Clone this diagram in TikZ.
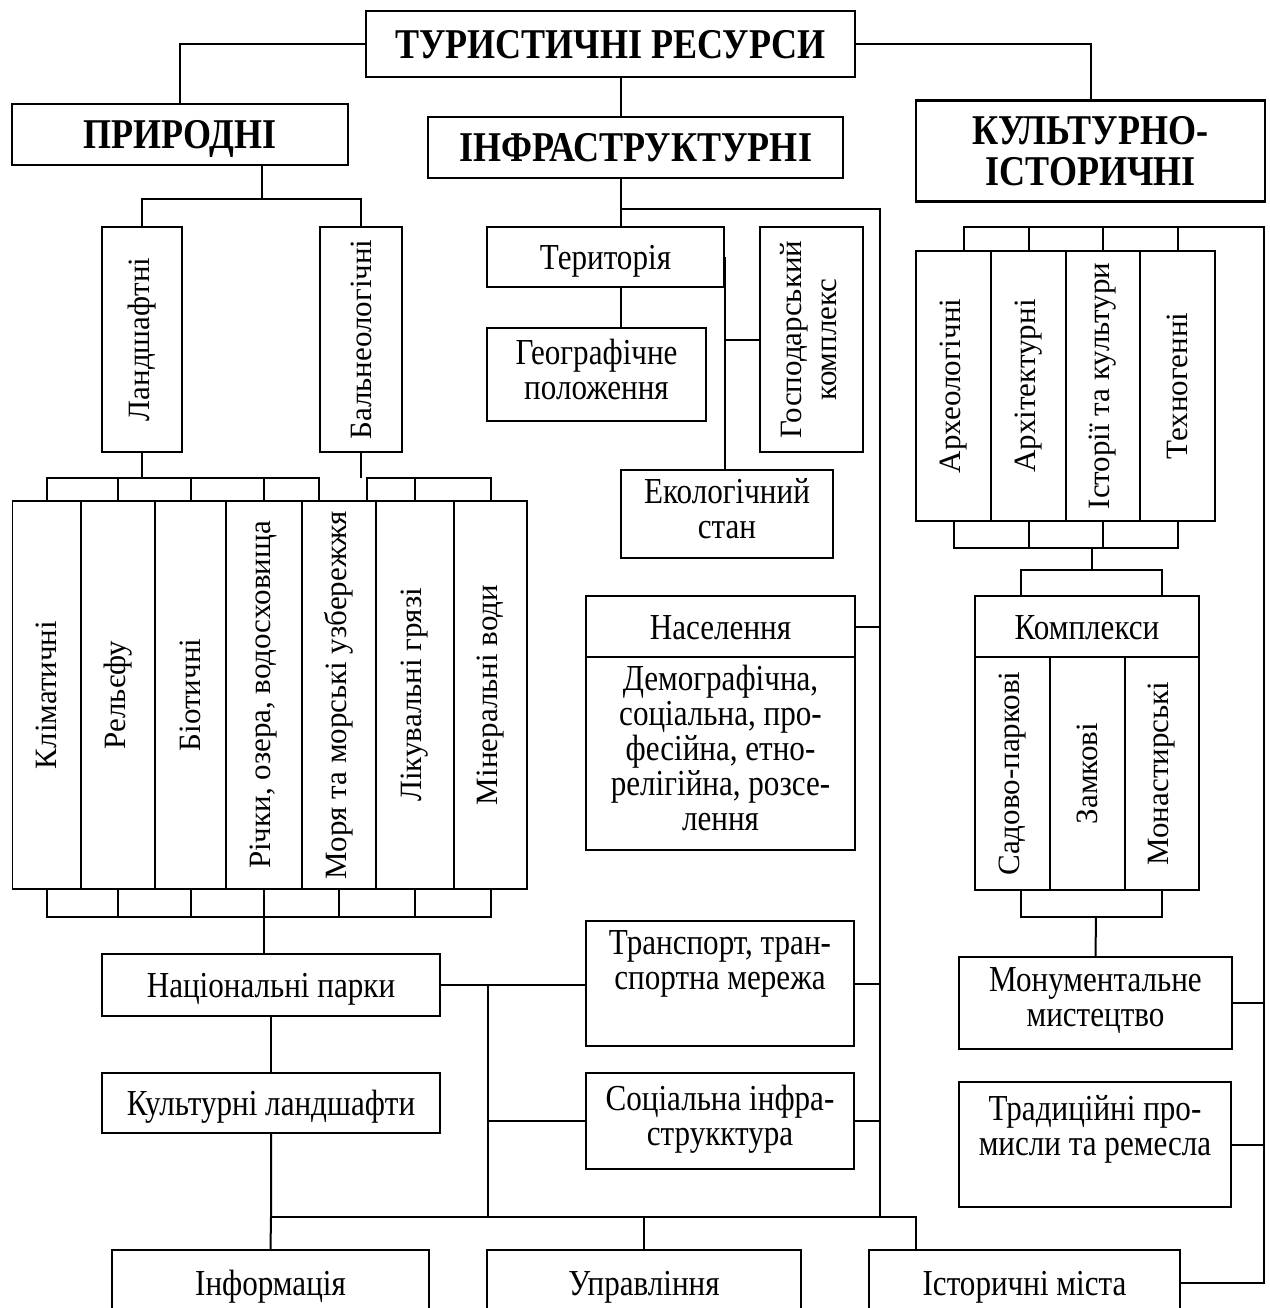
\documentclass[tikz,border=0pt]{standalone}
\usepackage{fontspec}
\setmainfont{Liberation Serif}
\newfontfamily\tallfont{Liberation Serif}[FakeStretch=0.85]
\usepackage{tikz}

\tikzset{
  rotbox/.style={draw, line width=0.7pt, inner sep=0pt, align=center, font=\fontsize{15.5}{17.5}\selectfont},
  box/.style={rotbox, font=\tallfont\fontsize{18.3}{17.5}\selectfont,
    execute at begin node={\rule{0pt}{18pt}}, execute at end node={\rule[-5.5pt]{0pt}{5.5pt}}},
  headbox/.style={draw, line width=1.4pt, inner sep=0pt, align=center, font=\tallfont\fontsize{21.2}{20.5}\selectfont\bfseries},
  onehead/.style={headbox, text height=14pt, text depth=0pt},
  sz/.style 2 args={minimum width=#1*0.5pt, minimum height=#2*0.5pt},
  txt/.style={inner sep=0pt, align=center, font=\tallfont\fontsize{18.3}{17.5}\selectfont,
    execute at begin node={\rule{0pt}{18pt}}, execute at end node={\rule[-5.5pt]{0pt}{5.5pt}}}
}

\begin{document}
\begin{tikzpicture}[x=0.5pt, y=-0.5pt, line width=1pt]
\useasboundingbox (0,0) rectangle (1270,1308);
\clip (0,0) rectangle (1270,1308);

% main groups
\node[onehead, sz={489}{66}] (tur) at (610.5,44) {ТУРИСТИЧНІ РЕСУРСИ};
\node[onehead, sz={336}{61}] (pryr) at (180,134.5) {ПРИРОДНІ};
\node[onehead, sz={415}{61}] (infra) at (635.5,147.5) {ІНФРАСТРУКТУРНІ};
\node[headbox, sz={349}{101}] (kult) at (1090.5,151) {КУЛЬТУРНО-\\ІСТОРИЧНІ};

% pryrodni
\node[rotbox, sz={80}{225}] (land) at (142,339.5) {\rotatebox{90}{Ландшафтні}};
\node[rotbox, sz={82}{225}] (baln) at (361,339.5) {\rotatebox{90}{Бальнеологічні}};
\node[rotbox, sz={68.5}{388}] (klim) at (46.75,695) {\rotatebox{90}{Кліматичні}};
\node[rotbox, sz={74}{388}] (relief) at (118,695) {\rotatebox{90}{Рельєфу}};
\node[rotbox, sz={71}{388}] (biot) at (190.5,695) {\rotatebox{90}{Біотичні}};
\node[rotbox, sz={76}{388}] (river) at (264,695) {\rotatebox{90}{Річки, озера, водосховища}};
\node[rotbox, sz={74}{388}] (sea) at (339,695) {\rotatebox{90}{Моря та морські узбережжя}};
\node[rotbox, sz={78}{388}] (mud) at (415,695) {\rotatebox{90}{Лікувальні грязі}};
\node[rotbox, sz={73}{388}] (mineral) at (490.5,695) {\rotatebox{90}{Мінеральні води}};
\node[box, sz={338}{62}] (nat) at (271,985) {Національні парки};
\node[box, sz={338}{60}] (kland) at (271,1103) {Культурні ландшафти};

% bottom row
\node[box, sz={317}{66}] (info) at (270.5,1283) {Інформація};
\node[box, sz={314}{66}] (upr) at (644,1283) {Управління};
\node[box, sz={311}{66}] (ist) at (1024.5,1283) {Історичні міста};

% infrastrukturni
\node[box, sz={237}{60}] (terr) at (605.5,257) {Територія};
\node[box, sz={219}{93}] (geo) at (596.5,374.5) {Географічне\\положення};
\node[rotbox, sz={103}{225}] (gosp) at (811.5,339.5) {\rotatebox{90}{\begin{tabular}{@{}c@{}}Господарський\\комплекс\end{tabular}}};
\node[box, sz={212}{88}] (eco) at (727,514) {Екологічний\\стан};
\node[box, sz={269}{61}] (naselH) at (720.5,626.5) {Населення};
\node[box, sz={269}{193}] (nasel) at (720.5,753.5) {Демографічна,\\соціальна, про-\\фесійна, етно-\\релігійна, розсе-\\лення};
\node[rotbox, sz={268}{125}] (trans) at (720,983.5) {};
\node[txt] (transtxt) at ([yshift=9pt]trans.center) {Транспорт, тран-\\спортна мережа};
\node[box, sz={268}{96}] (soc) at (720,1121) {Соціальна інфра-\\струкктура};

% kulturno-istorychni
\node[rotbox, sz={75}{270}] (arch) at (953.5,386) {\rotatebox{90}{Археологічні}};
\node[rotbox, sz={75}{270}] (archit) at (1028.5,386) {\rotatebox{90}{Архітектурні}};
\node[rotbox, sz={74}{270}] (hist) at (1103,386) {\rotatebox{90}{Історії та культури}};
\node[rotbox, sz={75}{270}] (tech) at (1177.5,386) {\rotatebox{90}{Техногенні}};
\node[box, sz={224}{61}] (kompH) at (1087,626.5) {Комплекси};
\node[rotbox, sz={75}{233}] (sad) at (1012.5,773.5) {\rotatebox{90}{Садово-паркові}};
\node[rotbox, sz={75}{233}] (zamk) at (1087.5,773.5) {\rotatebox{90}{Замкові}};
\node[rotbox, sz={74}{233}] (monast) at (1162,773.5) {\rotatebox{90}{Монастирські}};
\node[box, sz={273}{92}] (mon) at (1095.5,1003) {Монументальне\\мистецтво};
\node[rotbox, sz={272}{125}] (trad) at (1095,1144.5) {};
\node[txt] (tradtxt) at ([yshift=7pt]trad.center) {Традиційні про-\\мисли та ремесла};

% junctions
\coordinate (pjunc) at (262,199);
\coordinate (ljunc) at (142,478);
\coordinate (rowbus) at (264,917);
\coordinate (ijunc) at (621,209);
\coordinate (trunk) at (880,209);
\coordinate (bus) at (271,1217);
\coordinate (sjunc) at (488,1217);
\coordinate (istjunc) at (916,1217);
\coordinate (rtop) at (1264,227);
\coordinate (abus) at (1092,548);
\coordinate (kbus) at (1092,570);
\coordinate (kbot) at (1096,917);
\coordinate (seaL) at ([xshift=9pt]sea.north west);
\coordinate (seaR) at ([xshift=-5pt]sea.north east);
\coordinate (archtick) at ([xshift=5pt]arch.north);
\coordinate (ktop) at ([xshift=4pt]sad.north);
\coordinate (kbl) at ([xshift=4pt]sad.south);

% top level
\draw (tur.west) -| (pryr.north);
\draw (tur.east) -| (kult.north);
\draw (tur.south -| ijunc) -- (infra.north -| ijunc);

% pryrodni links
\draw (pryr.south -| pjunc) -- (pjunc);
\draw (land.north) |- (pjunc) -| (baln.north);
\draw (land.south) -- (ljunc);
\draw (klim.north) -- (klim.north |- ljunc) -- (seaL |- ljunc) -- (seaL);
\draw (relief.north) -- (relief.north |- ljunc);
\draw (biot.north) -- (biot.north |- ljunc);
\draw (river.north) -- (river.north |- ljunc);
\draw (baln.south) -- (baln.south |- ljunc);
\draw (seaR) -- (seaR |- ljunc) -- (mineral.north |- ljunc) -- (mineral.north);
\draw (mud.north) -- (mud.north |- ljunc);
\draw (klim.south) -- (klim.south |- rowbus) -- (mineral.south |- rowbus) -- (mineral.south);
\draw (relief.south) -- (relief.south |- rowbus);
\draw (biot.south) -- (biot.south |- rowbus);
\draw (river.south) -- (river.south |- rowbus);
\draw (sea.south) -- (sea.south |- rowbus);
\draw (mud.south) -- (mud.south |- rowbus);
\draw (rowbus) -- (rowbus |- nat.north);
\draw (nat.south) -- (kland.north);
\draw (kland.south) -- (bus) -- (info.north);
\draw (bus) -- (istjunc) -- (istjunc |- ist.north);
\draw (upr.north) -- (upr.north |- bus);

% infrastrukturni links
\draw (infra.south -| ijunc) -- (ijunc) -- (ijunc |- terr.north);
\draw (ijunc) -- (trunk) -- (trunk |- bus);
\draw (terr.south -| ijunc) -- (geo.north -| ijunc);
\draw (terr.east) -- (terr.east |- eco.north);
\draw (terr.east |- gosp.west) -- (gosp.west);
\draw (naselH.east) -- (naselH.east -| trunk);
\draw (trans.east) -- (trans.east -| trunk);
\draw (soc.east) -- (soc.east -| trunk);
\draw (nat.east) -- (nat.east -| trans.west);
\draw (nat.east -| sjunc) -- (sjunc);
\draw (sjunc |- soc.west) -- (soc.west);

% kulturno-istorychni links
\draw (archtick) -- (archtick |- rtop) -- (rtop) -- (rtop |- ist.east) -- (ist.east);
\draw (archit.north) -- (archit.north |- rtop);
\draw (hist.north) -- (hist.north |- rtop);
\draw (tech.north) -- (tech.north |- rtop);
\draw (arch.south) -- (arch.south |- abus) -- (tech.south |- abus) -- (tech.south);
\draw (archit.south) -- (archit.south |- abus);
\draw (hist.south) -- (hist.south |- abus);
\draw (abus) -- (kbus);
\draw (ktop |- kompH.north) -- (ktop |- kbus) -- (monast.north |- kbus) -- (monast.north |- kompH.north);
\draw (kbl) -- (kbl |- kbot) -- (monast.south |- kbot) -- (monast.south);
\draw (kbot) -- (mon.north);
\draw (mon.east) -- (mon.east -| rtop);
\draw (trad.east) -- (trad.east -| rtop);
\end{tikzpicture}
\end{document}
